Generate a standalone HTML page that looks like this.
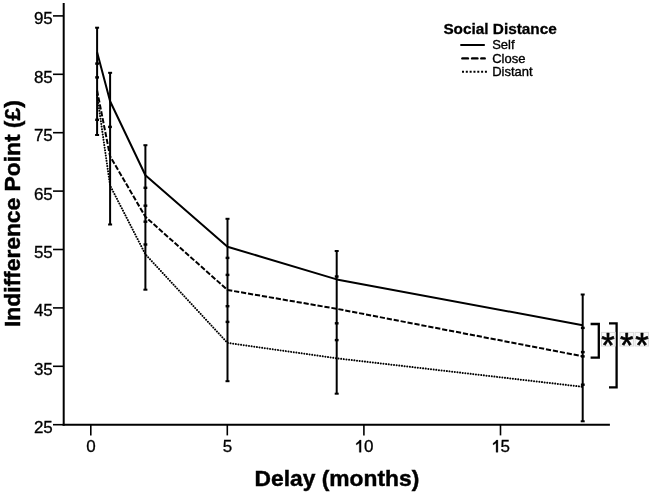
<!DOCTYPE html>
<html><head><meta charset="utf-8"><style>
html,body{margin:0;padding:0;background:#fff;width:650px;height:493px;overflow:hidden}
svg{display:block;filter:grayscale(1)}
text{font-family:"Liberation Sans",sans-serif;fill:#000}
</style></head><body>
<svg width="650" height="493" viewBox="0 0 650 493">
<rect width="650" height="493" fill="#fff"/>
<!-- axes -->
<g stroke="#000" fill="none">
<line x1="63.7" y1="3" x2="63.7" y2="425.7" stroke-width="2"/>
<line x1="62.7" y1="424.7" x2="609.9" y2="424.7" stroke-width="2"/>
</g>
<!-- y ticks -->
<g stroke="#000" stroke-width="1.6">
<line x1="53" y1="15.9" x2="63" y2="15.9"/>
<line x1="53" y1="74.3" x2="63" y2="74.3"/>
<line x1="53" y1="132.7" x2="63" y2="132.7"/>
<line x1="53" y1="191.1" x2="63" y2="191.1"/>
<line x1="53" y1="249.5" x2="63" y2="249.5"/>
<line x1="53" y1="307.9" x2="63" y2="307.9"/>
<line x1="53" y1="366.3" x2="63" y2="366.3"/>
<line x1="53" y1="424.7" x2="63" y2="424.7"/>
</g>
<g font-size="17" text-anchor="end" stroke="#000" stroke-width="0.3">
<text x="52.8" y="24.3">95</text>
<text x="52.8" y="82.7">85</text>
<text x="52.8" y="141.1">75</text>
<text x="52.8" y="199.5">65</text>
<text x="52.8" y="257.9">55</text>
<text x="52.8" y="316.3">45</text>
<text x="52.8" y="374.7">35</text>
<text x="52.8" y="433.1">25</text>
</g>
<!-- x ticks -->
<g stroke="#000" stroke-width="1.6">
<line x1="90.8" y1="425" x2="90.8" y2="435.4"/>
<line x1="227.3" y1="425" x2="227.3" y2="435.4"/>
<line x1="363.9" y1="425" x2="363.9" y2="435.4"/>
<line x1="500.5" y1="425" x2="500.5" y2="435.4"/>
</g>
<g font-size="17" text-anchor="middle" stroke="#000" stroke-width="0.3">
<text x="91.1" y="452.3">0</text>
<text x="227.5" y="452.3">5</text>
<text x="368.8" y="452.3">0</text>
<text x="505.2" y="452.3">5</text>
</g>
<path d="M361.1 440.1 L361.1 452.3 L359.3 452.3 L359.3 442.9 Q358.1 444.1 356.3 444.9 L356.3 443.2 Q358.6 442.1 359.7 440.1 Z" fill="#000" stroke="#000" stroke-width="0.3"/>
<path d="M361.1 440.1 L361.1 452.3 L359.3 452.3 L359.3 442.9 Q358.1 444.1 356.3 444.9 L356.3 443.2 Q358.6 442.1 359.7 440.1 Z" transform="translate(136.8,0)" fill="#000" stroke="#000" stroke-width="0.3"/>
<!-- axis titles -->
<text x="254.6" y="486.4" font-size="22.8" font-weight="bold" stroke="#000" stroke-width="0.45">Delay (months)</text>
<text transform="translate(20.1,327) rotate(-90)" font-size="22.8" font-weight="bold" stroke="#000" stroke-width="0.45">Indifference Point (£)</text>
<!-- legend -->
<text x="443.4" y="34.3" font-size="15.35" font-weight="bold" stroke="#000" stroke-width="0.3">Social Distance</text>
<g font-size="13" stroke="#000" stroke-width="0.35">
<text x="492.2" y="48.6">Self</text>
<text x="492.2" y="62.5">Close</text>
<text x="492.2" y="76.4">Distant</text>
</g>
<g stroke="#000" stroke-width="2" fill="none">
<line x1="460.3" y1="45" x2="484.8" y2="45"/>
<g stroke-width="2.4" stroke-linecap="round"><line x1="462.4" y1="58.4" x2="467.9" y2="58.4"/><line x1="472.1" y1="58.4" x2="477.4" y2="58.4"/><line x1="481.3" y1="58.4" x2="484.7" y2="58.4"/></g>
<line x1="462" y1="71.8" x2="487" y2="71.8" stroke-width="2.1" stroke-dasharray="2 1.82"/>
</g>
<!-- error bars -->
<g stroke="#000" stroke-width="2" fill="none">
<line x1="97.1" y1="27.7" x2="97.1" y2="135"/>
<line x1="110.1" y1="72.8" x2="110.1" y2="224.5"/>
<line x1="145.4" y1="145.2" x2="145.4" y2="289.7"/>
<line x1="227.5" y1="218.8" x2="227.5" y2="381.2"/>
<line x1="336.7" y1="251" x2="336.7" y2="393.7"/>
<line x1="582.7" y1="294.5" x2="582.7" y2="421.3"/>
</g>
<!-- caps -->
<g stroke="#000" stroke-width="2">
<line x1="95.1" y1="27.7" x2="99.1" y2="27.7"/>
<line x1="95.1" y1="135" x2="99.1" y2="135"/>
<line x1="108.1" y1="72.8" x2="112.1" y2="72.8"/>
<line x1="108.1" y1="224.5" x2="112.1" y2="224.5"/>
<line x1="143.4" y1="145.2" x2="147.4" y2="145.2"/>
<line x1="143.4" y1="289.7" x2="147.4" y2="289.7"/>
<line x1="225.5" y1="218.8" x2="229.5" y2="218.8"/>
<line x1="225.5" y1="381.2" x2="229.5" y2="381.2"/>
<line x1="334.7" y1="251" x2="338.7" y2="251"/>
<line x1="334.7" y1="393.7" x2="338.7" y2="393.7"/>
<line x1="580.7" y1="294.5" x2="584.7" y2="294.5"/>
<line x1="580.7" y1="421.3" x2="584.7" y2="421.3"/>
</g>
<!-- small markers -->
<g stroke="#000" stroke-width="2.4">
<line x1="95.2" y1="63.6" x2="99.0" y2="63.6"/>
<line x1="95.2" y1="77.4" x2="99.0" y2="77.4"/>
<line x1="95.2" y1="119.8" x2="99.0" y2="119.8"/>
<line x1="108.1" y1="126.9" x2="111.9" y2="126.9"/>
<line x1="143.5" y1="187.8" x2="147.3" y2="187.8"/>
<line x1="143.5" y1="205.7" x2="147.3" y2="205.7"/>
<line x1="143.5" y1="221.7" x2="147.3" y2="221.7"/>
<line x1="143.5" y1="244.5" x2="147.3" y2="244.5"/>
<line x1="225.6" y1="257.9" x2="229.4" y2="257.9"/>
<line x1="225.6" y1="274.9" x2="229.4" y2="274.9"/>
<line x1="225.6" y1="306.2" x2="229.4" y2="306.2"/>
<line x1="225.6" y1="321.9" x2="229.4" y2="321.9"/>
<line x1="334.8" y1="276.5" x2="338.6" y2="276.5"/>
<line x1="334.8" y1="323.3" x2="338.6" y2="323.3"/>
<line x1="334.8" y1="340.1" x2="338.6" y2="340.1"/>
<line x1="580.9" y1="327.9" x2="584.7" y2="327.9"/>
<line x1="580.9" y1="352.1" x2="584.7" y2="352.1"/>
<line x1="580.9" y1="356.4" x2="584.7" y2="356.4"/>
<line x1="580.9" y1="384.7" x2="584.7" y2="384.7"/>
</g>
<!-- data lines -->
<g fill="none" stroke="#000" stroke-width="2" stroke-linejoin="round">
<polyline points="97.1,52.2 110.1,101.3 145.4,175.3 227.5,246.7 336.7,279.4 582.7,325.2"/>
<polyline points="97.1,90.5 110.1,156.3 145.4,216.8 227.5,290 336.7,308.8 582.7,356.3" stroke-dasharray="5.2 1.85"/>
<polyline points="97.1,95 110.1,185.5 145.4,254.3 227.5,342.9 336.7,358.3 582.7,386.8" stroke-dasharray="0.01 2.65" stroke-width="2" stroke-linecap="round"/>
</g>
<!-- significance brackets -->
<g stroke="#000" stroke-width="2.3" fill="none">
<polyline points="590.6,324 598.8,324 598.8,357.6 590.6,357.6"/>
<polyline points="609,323.3 616.6,323.3 616.6,387.4 609,387.4"/>
</g>
<g fill="#f9f9f9" stroke="#dcdcdc" stroke-width="1">
<rect x="601.5" y="332.4" width="13.6" height="13.6"/>
<rect x="619.9" y="332.4" width="13.6" height="13.6"/>
<rect x="635.1" y="332.4" width="13.4" height="13.6"/>
</g>
<g font-size="34.5" text-anchor="middle" stroke="#000" stroke-width="0.6" stroke-linejoin="round">
<text x="607.9" y="357">*</text>
<text x="626.7" y="357">*</text>
<text x="642" y="357">*</text>
</g>
</svg>
</body></html>
